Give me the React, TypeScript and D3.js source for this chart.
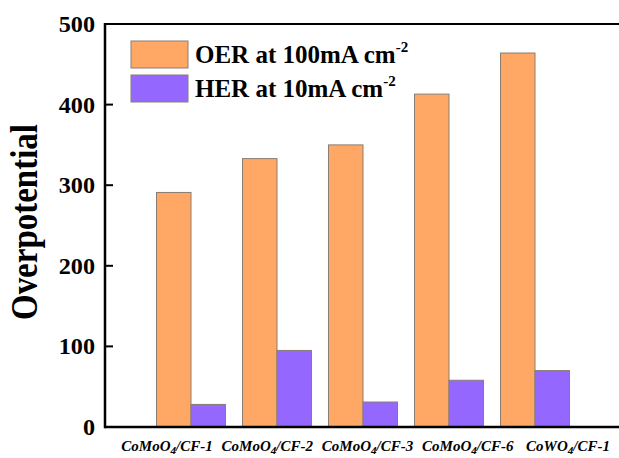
import React from "react";
import * as d3 from "d3";

const categories = ["CoMoO4/CF-1", "CoMoO4/CF-2", "CoMoO4/CF-3", "CoMoO4/CF-6", "CoWO4/CF-1"];
const oerValues = [291, 333, 350, 413, 464];
const herValues = [28, 95, 31, 58, 70];
const seriesNames = ["OER", "HER"];
const legendLabels = ["OER at 100mA cm", "HER at 10mA cm"];
const yTicks = [0, 100, 200, 300, 400, 500];

const W = 619;
const H = 458;
const serif = "Liberation Serif";

const App = () => {
  const ref = React.useRef<SVGSVGElement>(null);

  React.useEffect(() => {
    const svg = d3.select(ref.current);
    svg.selectAll("*").remove();

    const left = 105, right = 621, top = 24, bottom = 427;

    const x = d3.scaleBand().domain(categories).range([left, right]).paddingInner(0).paddingOuter(0.5);
    const xs = d3.scaleBand().domain(seriesNames).range([0, x.bandwidth()]).paddingInner(0).paddingOuter(0.246);
    const y = d3.scaleLinear().domain([0, 500]).range([bottom, top]);
    const color = d3.scaleOrdinal<string>().domain(seriesNames).range(["#FFA866", "#9468FF"]);

    const rows = categories.map((c, i) => ({ c, OER: oerValues[i], HER: herValues[i] }));

    // bars
    const g = svg.append("g");
    rows.forEach((r) => {
      seriesNames.forEach((s) => {
        const v = (r as any)[s] as number;
        g.append("rect")
          .attr("x", (x(r.c) as number) + (xs(s) as number))
          .attr("y", y(v))
          .attr("width", xs.bandwidth())
          .attr("height", y(0) - y(v))
          .attr("fill", color(s))
          .attr("stroke", "#8a7d72")
          .attr("stroke-width", 1);
      });
    });

    // frame
    svg.append("line").attr("x1", left).attr("x2", W).attr("y1", top).attr("y2", top)
      .attr("stroke", "black").attr("stroke-width", 2);
    svg.append("line").attr("x1", left).attr("x2", W).attr("y1", bottom).attr("y2", bottom)
      .attr("stroke", "black").attr("stroke-width", 2.5);
    svg.append("line").attr("x1", left).attr("x2", left).attr("y1", top - 1).attr("y2", bottom + 1.2)
      .attr("stroke", "black").attr("stroke-width", 2.5);

    // y axis ticks + labels
    yTicks.forEach((t) => {
      svg.append("line").attr("x1", left).attr("x2", left + 8).attr("y1", y(t)).attr("y2", y(t))
        .attr("stroke", "black").attr("stroke-width", 2);
      svg.append("text").attr("x", 95).attr("y", y(t) + 8)
        .attr("text-anchor", "end")
        .style("font-family", serif).style("font-weight", "bold").style("font-size", "23px")
        .attr("transform", `translate(95,0) scale(1.05,1) translate(-95,0)`)
        .text(String(t));
    });

    svg.append("text")
      .attr("transform", `translate(37,222) rotate(-90) scale(1,1.15)`)
      .attr("text-anchor", "middle")
      .style("font-family", serif).style("font-weight", "bold").style("font-size", "33px")
      .text("Overpotential");

    // x labels (placed slightly off the group centres, as in the original)
    const xl = d3.scalePoint().domain(categories).range([167, 568]);
    categories.forEach((c) => {
      const m = c.match(/^(.*?)(4)(\/.*)$/)!;
      const t = svg.append("text").attr("x", xl(c) as number).attr("y", 451)
        .attr("text-anchor", "middle")
        .style("font-family", serif).style("font-weight", "bold").style("font-style", "italic")
        .style("font-size", "15px");
      t.append("tspan").text(m[1]);
      t.append("tspan").style("font-size", "11px").attr("dy", 3).text(m[2]);
      t.append("tspan").attr("dy", -3).text(m[3]);
    });

    // legend
    seriesNames.forEach((s, i) => {
      const ly = 41 + i * 34;
      svg.append("rect").attr("x", 131).attr("y", ly).attr("width", 57).attr("height", 27)
        .attr("fill", color(s)).attr("stroke", "#8a7d72").attr("stroke-width", 1);
      const t = svg.append("text").attr("x", 195).attr("y", ly + 22)
        .style("font-family", serif).style("font-weight", "bold").style("font-size", "25px");
      t.append("tspan").text(legendLabels[i]);
      t.append("tspan").style("font-size", "15px").attr("dy", -11).text("-2");
    });
  }, []);

  return (
    <svg ref={ref} width={W} height={H}
      style={{ position: "absolute", left: 0, top: 0, background: "white" }} />
  );
};

export default App;
